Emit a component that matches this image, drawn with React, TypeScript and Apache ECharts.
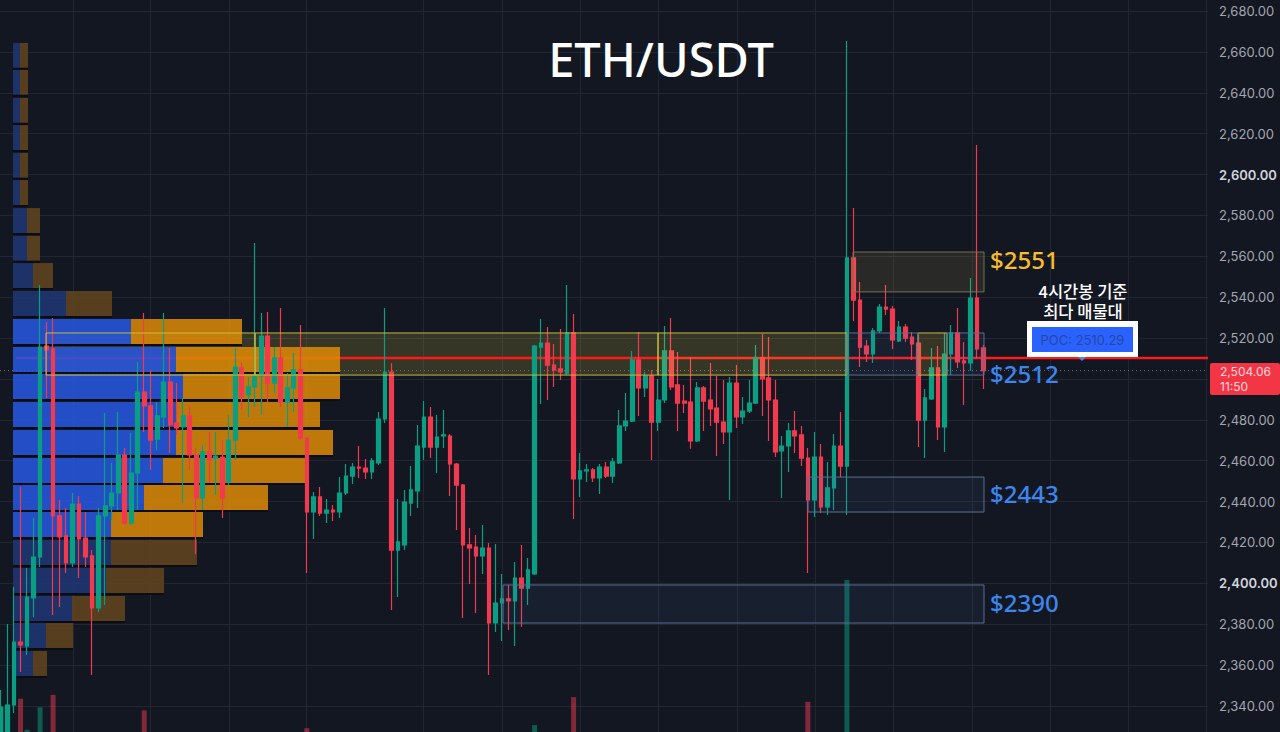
import React, { useEffect, useRef } from "react";
import * as echarts from "echarts";

// open, close, low, high of each 1 candle, left to right
const candles: number[][] = [
  [2322, 2339.5, 2318, 2347.8],
  [2324, 2340.5, 2320, 2380.1],
  [2340.5, 2371.3, 2336.6, 2398.2],
  [2371.3, 2369.9, 2356.6, 2447.2],
  [2369.4, 2393.3, 2365.0, 2407.5],
  [2392.9, 2412.9, 2383.6, 2432.0],
  [2412.9, 2515.6, 2408.0, 2546.0],
  [2516.1, 2514.2, 2490.7, 2527.9],
  [2514.7, 2433.0, 2384.5, 2529.8],
  [2433.0, 2422.7, 2388.4, 2440.8],
  [2423.2, 2410.0, 2405.1, 2436.9],
  [2410.0, 2438.8, 2408.0, 2444.2],
  [2438.8, 2421.7, 2402.6, 2442.8],
  [2422.2, 2412.9, 2408.0, 2434.9],
  [2413.4, 2388.0, 2355.2, 2416.3],
  [2388.0, 2433.0, 2386.0, 2436.9],
  [2433.0, 2437.9, 2389.4, 2483.4],
  [2437.9, 2444.2, 2431.0, 2458.9],
  [2444.2, 2462.8, 2435.9, 2483.8],
  [2462.8, 2429.5, 2428.6, 2466.2],
  [2429.5, 2454.0, 2428.6, 2473.6],
  [2454.0, 2493.6, 2435.9, 2508.3],
  [2493.6, 2486.8, 2474.1, 2532.3],
  [2486.8, 2470.1, 2455.5, 2504.4],
  [2470.6, 2481.9, 2465.3, 2488.7],
  [2481.4, 2498.5, 2476.0, 2532.3],
  [2498.5, 2477.5, 2463.8, 2515.2],
  [2478.5, 2476.0, 2472.6, 2498.0],
  [2476.5, 2481.9, 2439.3, 2490.7],
  [2481.9, 2462.8, 2455.5, 2486.3],
  [2462.8, 2441.8, 2414.4, 2466.2],
  [2441.8, 2464.3, 2435.9, 2467.7],
  [2464.3, 2460.4, 2449.1, 2474.1],
  [2461.3, 2462.3, 2443.2, 2474.1],
  [2461.8, 2441.8, 2432.0, 2470.1],
  [2449.6, 2470.1, 2448.1, 2482.4],
  [2470.1, 2505.8, 2460.4, 2515.2],
  [2505.4, 2491.2, 2484.8, 2508.3],
  [2492.2, 2496.1, 2481.4, 2501.0],
  [2496.1, 2501.0, 2486.3, 2566.5],
  [2501.5, 2521.0, 2482.4, 2532.3],
  [2521.0, 2498.0, 2488.7, 2532.8],
  [2498.0, 2510.3, 2493.1, 2515.6],
  [2510.3, 2488.7, 2486.3, 2534.7],
  [2488.7, 2495.6, 2476.5, 2502.9],
  [2495.6, 2504.4, 2483.8, 2512.7],
  [2504.4, 2471.1, 2470.1, 2526.4],
  [2471.1, 2434.9, 2405.1, 2471.6],
  [2434.9, 2442.3, 2421.7, 2444.7],
  [2442.3, 2434.4, 2433.0, 2447.2],
  [2434.4, 2435.9, 2429.5, 2441.3],
  [2435.9, 2434.9, 2430.5, 2438.3],
  [2434.9, 2444.2, 2432.0, 2452.0],
  [2444.2, 2452.5, 2443.2, 2458.4],
  [2452.5, 2456.9, 2448.6, 2458.9],
  [2456.9, 2456.4, 2451.6, 2467.2],
  [2456.4, 2454.5, 2451.1, 2460.8],
  [2454.5, 2459.9, 2451.1, 2461.3],
  [2458.9, 2480.4, 2457.9, 2483.8],
  [2480.4, 2503.4, 2478.5, 2534.7],
  [2503.4, 2416.3, 2387.0, 2507.8],
  [2416.3, 2420.3, 2393.3, 2441.3],
  [2418.8, 2439.8, 2416.3, 2445.7],
  [2439.3, 2445.7, 2433.0, 2457.4],
  [2445.2, 2467.2, 2436.9, 2477.5],
  [2466.7, 2481.4, 2460.4, 2489.2],
  [2481.4, 2466.7, 2461.3, 2486.3],
  [2466.7, 2471.6, 2454.0, 2482.4],
  [2472.1, 2472.6, 2466.2, 2484.8],
  [2472.1, 2458.4, 2442.8, 2473.1],
  [2458.4, 2448.1, 2426.1, 2458.9],
  [2448.1, 2418.8, 2383.1, 2448.6],
  [2418.8, 2417.3, 2399.7, 2427.1],
  [2417.8, 2413.4, 2385.5, 2423.7],
  [2413.4, 2417.3, 2404.6, 2428.6],
  [2417.3, 2380.6, 2355.2, 2419.8],
  [2380.6, 2390.4, 2376.2, 2419.3],
  [2390.4, 2392.4, 2371.8, 2404.6],
  [2392.4, 2391.4, 2377.2, 2399.2],
  [2391.4, 2402.6, 2369.4, 2410.5],
  [2402.6, 2397.7, 2378.7, 2418.8],
  [2397.7, 2406.6, 2389.4, 2412.4],
  [2404.6, 2516.1, 2404.1, 2516.6],
  [2515.6, 2517.6, 2487.8, 2529.3],
  [2517.6, 2506.8, 2489.7, 2525.4],
  [2506.8, 2504.4, 2496.1, 2517.1],
  [2504.9, 2503.4, 2499.5, 2524.4],
  [2502.9, 2522.5, 2501.9, 2546.0],
  [2522.5, 2451.1, 2431.5, 2531.8],
  [2451.1, 2455.0, 2442.3, 2463.8],
  [2455.0, 2455.5, 2449.6, 2458.4],
  [2455.5, 2451.6, 2449.6, 2456.4],
  [2451.6, 2456.9, 2443.7, 2458.4],
  [2456.9, 2452.5, 2451.6, 2459.4],
  [2452.5, 2459.4, 2449.1, 2461.3],
  [2458.9, 2477.0, 2458.4, 2484.8],
  [2477.0, 2479.4, 2474.6, 2493.1],
  [2479.4, 2509.3, 2478.9, 2513.7],
  [2509.3, 2495.6, 2481.9, 2523.0],
  [2495.6, 2501.5, 2491.2, 2503.4],
  [2501.5, 2478.9, 2460.4, 2504.4],
  [2478.9, 2489.7, 2474.6, 2500.0],
  [2489.7, 2513.7, 2488.2, 2525.9],
  [2513.7, 2496.1, 2494.6, 2529.8],
  [2497.1, 2488.2, 2474.6, 2513.2],
  [2489.2, 2488.2, 2483.4, 2497.1],
  [2488.7, 2469.7, 2465.8, 2510.8],
  [2469.7, 2495.6, 2469.2, 2498.5],
  [2495.6, 2489.2, 2474.6, 2496.6],
  [2489.7, 2485.3, 2477.0, 2507.8],
  [2485.8, 2478.9, 2462.3, 2501.5],
  [2478.9, 2474.1, 2468.2, 2499.5],
  [2474.1, 2498.0, 2440.8, 2501.0],
  [2498.0, 2481.4, 2476.0, 2506.8],
  [2481.4, 2484.3, 2478.0, 2491.2],
  [2484.3, 2488.2, 2483.4, 2499.5],
  [2488.2, 2510.3, 2487.8, 2516.6],
  [2510.3, 2500.0, 2481.9, 2522.0],
  [2500.5, 2489.7, 2469.7, 2520.5],
  [2489.7, 2464.3, 2461.8, 2499.5],
  [2464.8, 2467.2, 2441.8, 2472.1],
  [2467.2, 2474.6, 2454.5, 2478.5],
  [2474.6, 2472.1, 2463.8, 2484.3],
  [2472.6, 2461.3, 2457.4, 2477.0],
  [2461.3, 2440.8, 2405.1, 2466.2],
  [2440.8, 2461.8, 2432.5, 2474.1],
  [2461.8, 2437.4, 2434.4, 2468.2],
  [2437.4, 2446.7, 2433.5, 2459.4],
  [2446.7, 2467.2, 2435.9, 2473.1],
  [2467.2, 2457.4, 2452.0, 2483.8],
  [2457.4, 2559.2, 2433.5, 2665.3],
  [2559.2, 2538.6, 2528.4, 2583.6],
  [2538.6, 2515.6, 2505.8, 2547.4],
  [2516.1, 2512.2, 2508.3, 2519.1],
  [2512.2, 2523.5, 2507.8, 2524.9],
  [2523.5, 2535.2, 2522.5, 2536.7],
  [2535.2, 2534.2, 2531.3, 2546.0],
  [2534.2, 2519.1, 2514.7, 2535.7],
  [2518.6, 2525.4, 2518.1, 2528.4],
  [2525.4, 2520.0, 2518.1, 2526.9],
  [2520.5, 2517.1, 2509.3, 2523.0],
  [2517.6, 2479.9, 2466.7, 2521.5],
  [2479.9, 2490.7, 2461.3, 2495.1],
  [2490.2, 2505.4, 2489.7, 2515.2],
  [2505.4, 2476.5, 2470.1, 2516.1],
  [2476.5, 2512.2, 2464.3, 2522.5],
  [2512.2, 2522.5, 2501.9, 2526.4],
  [2522.5, 2508.3, 2505.4, 2534.7],
  [2508.8, 2507.8, 2487.3, 2518.1],
  [2507.8, 2539.6, 2503.9, 2549.4],
  [2539.6, 2514.7, 2510.3, 2614.5],
  [2515.2, 2504.06, 2495.1, 2516.6],
];

const CATEGORY_COUNT = 186;

// volume pane: only the bars that reach into the picture
const volumeIndex = [0, 1, 3, 4, 6, 8, 22, 47, 82, 88, 124, 130];
const volumeValue = [51, 54, 62, 22, 51, 67, 47, 24, 28, 64, 58, 215];

// volume profile, one row per price band
const profileTop = [
  2664.4, 2651.2, 2637.5, 2624.2, 2610.6, 2597.3, 2583.6, 2570.0, 2556.7, 2543.0, 2529.3, 2515.6,
  2502.4, 2488.7, 2475.0, 2461.3, 2448.1, 2434.9, 2421.2, 2407.5, 2393.8, 2380.6, 2366.9,
];
const profileBuy = [7, 7, 7, 7, 7, 7, 14, 14, 20, 53, 118, 163, 170, 164, 163, 150, 131, 98, 98, 93, 59, 33, 20];
const profileSell = [8, 8, 8, 8, 8, 8, 13, 13, 20, 46, 111, 164, 157, 143, 157, 142, 124, 92, 86, 58, 53, 27, 14];
const VALUE_AREA_FIRST = 10;
const VALUE_AREA_LAST = 17;
const PROFILE_START = 13;
const PROFILE_ROW = 12.2;

// zones: start, end, upper price, lower price, kind
// the long band's fill sits behind the profile rows, its outline stays on top
const zonesBehindProfile: number[][] = [[46, 658, 2522.5, 2501.9, 0]];
const zones: number[][] = [
  [46, 255, 2522.5, 2501.9, 3],
  [255, 658, 2522.5, 2501.9, 3],
  [658, 847, 2522.5, 2501.9, 0],
  [918, 947, 2522.5, 2501.9, 0],
  [847, 918, 2522.5, 2501.9, 2],
  [947, 984, 2522.5, 2501.9, 2],
  [853, 984, 2562.1, 2542.6, 1],
  [808, 984, 2452.0, 2434.9, 2],
  [503, 984, 2399.2, 2380.6, 2],
];

const POC_PRICE = 2510.29;
const LAST_PRICE = 2504.06;
const timeGrid = [73, 150, 229, 306, 423, 502, 580, 658, 737, 815, 893, 972, 1050, 1128, 1206];
const hiddenTicks = [2320, 2500, 2700];

const UP = "#0a9f82";
const DOWN = "#f23a4f";
const GRID_LINE = "#222631";

const App: React.FC = () => {
  const chartRef = useRef<HTMLDivElement | null>(null);

  useEffect(() => {
    document.body.style.margin = "0";
    document.body.style.background = "#131722";
    if (!chartRef.current) return;
    const chart = echarts.init(chartRef.current, undefined, { renderer: "svg" });

    const renderProfile = (params: any, api: any) => {
      const i = params.dataIndex;
      const top = api.value(0);
      const bright = i >= VALUE_AREA_FIRST && i <= VALUE_AREA_LAST;
      const [x0, y0] = api.coord([PROFILE_START, top]);
      const [x1, y1] = api.coord([PROFILE_START + api.value(1), top - PROFILE_ROW]);
      const [x2] = api.coord([PROFILE_START + api.value(1) + api.value(2), top]);
      return {
        type: "group",
        children: [
          {
            type: "rect",
            shape: { x: x0, y: y0, width: x1 - x0, height: y1 - y0 },
            style: { fill: bright ? "rgba(39,88,227,0.85)" : "rgba(32,55,117,0.85)" },
          },
          {
            type: "rect",
            shape: { x: x1, y: y0, width: x2 - x1, height: y1 - y0 },
            style: { fill: bright ? "rgba(222,139,6,0.85)" : "rgba(100,69,29,0.85)" },
          },
          {
            type: "rect",
            shape: { x: x0, y: y1, width: x2 - x0, height: 2 },
            style: { fill: "#0b0d12" },
          },
        ],
      };
    };

    const zoneFill = ["rgba(240,220,70,0.16)", "rgba(240,220,100,0.1)", "rgba(80,130,200,0.09)", "transparent"];
    const zoneStroke = ["#c9bb3e", "#77714a", "#5a6f90", "#c9bb3e"];

    const renderZone = (_params: any, api: any) => {
      const [x0, y0] = api.coord([api.value(0), api.value(2)]);
      const [x1, y1] = api.coord([api.value(1), api.value(3)]);
      const kind = api.value(4);
      return {
        type: "rect",
        shape: { x: x0, y: y0, width: x1 - x0, height: y1 - y0 },
        style: { fill: zoneFill[kind], stroke: zoneStroke[kind], lineWidth: 1 },
      };
    };

    const renderZoneFill = (_params: any, api: any) => {
      const [x0, y0] = api.coord([api.value(0), api.value(2)]);
      const [x1, y1] = api.coord([api.value(1), api.value(3)]);
      return {
        type: "rect",
        shape: { x: x0, y: y0, width: x1 - x0, height: y1 - y0 },
        style: { fill: zoneFill[api.value(4)] },
      };
    };

    const volumes = Array.from({ length: CATEGORY_COUNT }, (_, i) => {
      const at = volumeIndex.indexOf(i);
      if (at < 0) return "-";
      const c = candles[i];
      return {
        value: volumeValue[at],
        itemStyle: { color: c[1] >= c[0] ? "rgba(10,159,130,0.5)" : "rgba(242,58,79,0.5)" },
      };
    });

    const labelFont = (name: string, color: string, size: number, weight: number | string = 500) => ({
      font: `${weight} ${size}px "${name}"`,
      fill: color,
    });

    const option: any = {
      animation: false,
      backgroundColor: "#131722",
      grid: { left: -2.2, top: -29.84, width: 1210.2, height: 776.72, outerBoundsMode: "none" },
      xAxis: [
        {
          type: "category",
          show: false,
          data: Array.from({ length: CATEGORY_COUNT }, (_, i) => String(i)),
        },
        {
          type: "value",
          min: -2.2,
          max: 1208,
          axisLine: { show: false },
          axisLabel: { show: false },
          axisTick: { show: false, customValues: timeGrid },
          splitLine: { show: true, lineStyle: { color: GRID_LINE, width: 1 } },
        },
      ],
      yAxis: [
        {
          type: "value",
          position: "right",
          min: 2320,
          max: 2700,
          interval: 20,
          axisLine: { show: false },
          axisTick: { show: false },
          splitLine: { show: true, lineStyle: { color: GRID_LINE, width: 1 } },
          axisLabel: {
            margin: 11,
            fontFamily: "Inter",
            fontSize: 13,
            color: "#a3a6af",
            formatter: (v: number) => {
              if (hiddenTicks.includes(v)) return "";
              const text = v.toLocaleString("en-US", { minimumFractionDigits: 2 });
              return v % 200 === 0 ? `{b|${text}}` : text;
            },
            rich: {
              b: { fontFamily: "Inter", fontSize: 13, fontWeight: 600, color: "#d1d4dc" },
            },
          },
        },
        { type: "value", show: false, min: 0, max: 1000, splitLine: { show: false } },
      ],
      series: [
        {
          type: "custom",
          xAxisIndex: 1,
          yAxisIndex: 0,
          z: 2,
          silent: true,
          renderItem: renderZoneFill,
          encode: { x: 0, y: 2 },
          data: zonesBehindProfile,
        },
        {
          type: "line",
          xAxisIndex: 1,
          yAxisIndex: 0,
          z: 2,
          symbol: "none",
          silent: true,
          data: [
            [16, POC_PRICE],
            [1208, POC_PRICE],
          ],
          lineStyle: { color: "#ff1a1a", width: 2.6 },
        },
        {
          type: "line",
          xAxisIndex: 1,
          yAxisIndex: 0,
          z: 2,
          symbol: "none",
          silent: true,
          data: [
            [0, LAST_PRICE],
            [1208, LAST_PRICE],
          ],
          lineStyle: { color: "#7c6f78", width: 1, type: [1, 3] },
        },
        {
          type: "bar",
          xAxisIndex: 0,
          yAxisIndex: 1,
          z: 2,
          barWidth: 5,
          data: volumes,
        },
        {
          type: "custom",
          xAxisIndex: 1,
          yAxisIndex: 0,
          z: 3,
          silent: true,
          renderItem: renderProfile,
          encode: { x: 1, y: 0 },
          data: profileTop.map((top, i) => [top, profileBuy[i], profileSell[i]]),
        },
        {
          type: "candlestick",
          xAxisIndex: 0,
          yAxisIndex: 0,
          z: 4,
          barWidth: 4.2,
          data: candles,
          itemStyle: { color: UP, color0: DOWN, borderColor: UP, borderColor0: DOWN, borderWidth: 1.2 },
        },
        {
          type: "custom",
          xAxisIndex: 1,
          yAxisIndex: 0,
          z: 5,
          silent: true,
          renderItem: renderZone,
          encode: { x: 0, y: 2 },
          data: zones,
        },
      ],
      graphic: [
        {
          type: "text",
          x: 661,
          y: 59,
          z: 10,
          style: { text: "ETH/USDT", ...labelFont("Noto Sans", "#ffffff", 47), align: "center", verticalAlign: "middle" },
        },
        { type: "text", x: 990, y: 259, z: 10, style: { text: "$2551", ...labelFont("Noto Sans", "#f7bd2e", 24), verticalAlign: "middle" } },
        { type: "text", x: 990, y: 373, z: 10, style: { text: "$2512", ...labelFont("Noto Sans", "#3d86ee", 24), verticalAlign: "middle" } },
        { type: "text", x: 990, y: 493, z: 10, style: { text: "$2443", ...labelFont("Noto Sans", "#3d86ee", 24), verticalAlign: "middle" } },
        { type: "text", x: 990, y: 602, z: 10, style: { text: "$2390", ...labelFont("Noto Sans", "#3d86ee", 24), verticalAlign: "middle" } },
        {
          type: "text",
          x: 1083,
          y: 290.5,
          z: 10,
          style: { text: "4시간봉 기준", ...labelFont("Noto Sans CJK KR", "#ffffff", 16.5), align: "center", verticalAlign: "middle" },
        },
        {
          type: "text",
          x: 1083,
          y: 310.5,
          z: 10,
          style: { text: "최다 매물대", ...labelFont("Noto Sans CJK KR", "#ffffff", 16.5), align: "center", verticalAlign: "middle" },
        },
        { type: "rect", z: 10, shape: { x: 1027, y: 321, width: 111, height: 36 }, style: { fill: "#ffffff" } },
        { type: "rect", z: 11, shape: { x: 1032, y: 327, width: 101, height: 25 }, style: { fill: "#2962ff" } },
        {
          type: "polygon",
          z: 11,
          shape: { points: [[1078, 357], [1086, 357], [1082, 361]] },
          style: { fill: "#5d84d8" },
        },
        {
          type: "text",
          x: 1082.5,
          y: 340,
          z: 12,
          style: { text: "POC: 2510.29", ...labelFont("Inter", "#2a47a0", 13, 400), align: "center", verticalAlign: "middle" },
        },
        { type: "rect", z: 10, shape: { x: 1210, y: 363, width: 70, height: 32, r: 2 }, style: { fill: "#f23645" } },
        {
          type: "text",
          x: 1220,
          y: 371,
          z: 11,
          style: { text: "2,504.06", ...labelFont("Inter", "#ffd9dc", 12, 400), verticalAlign: "middle" },
        },
        {
          type: "text",
          x: 1220,
          y: 386,
          z: 11,
          style: { text: "11:50", ...labelFont("Inter", "#ffd9dc", 12, 400), verticalAlign: "middle" },
        },
      ],
    };

    chart.setOption(option);
    return () => chart.dispose();
  }, []);

  return <div ref={chartRef} style={{ width: 1280, height: 732 }} />;
};

export default App;
